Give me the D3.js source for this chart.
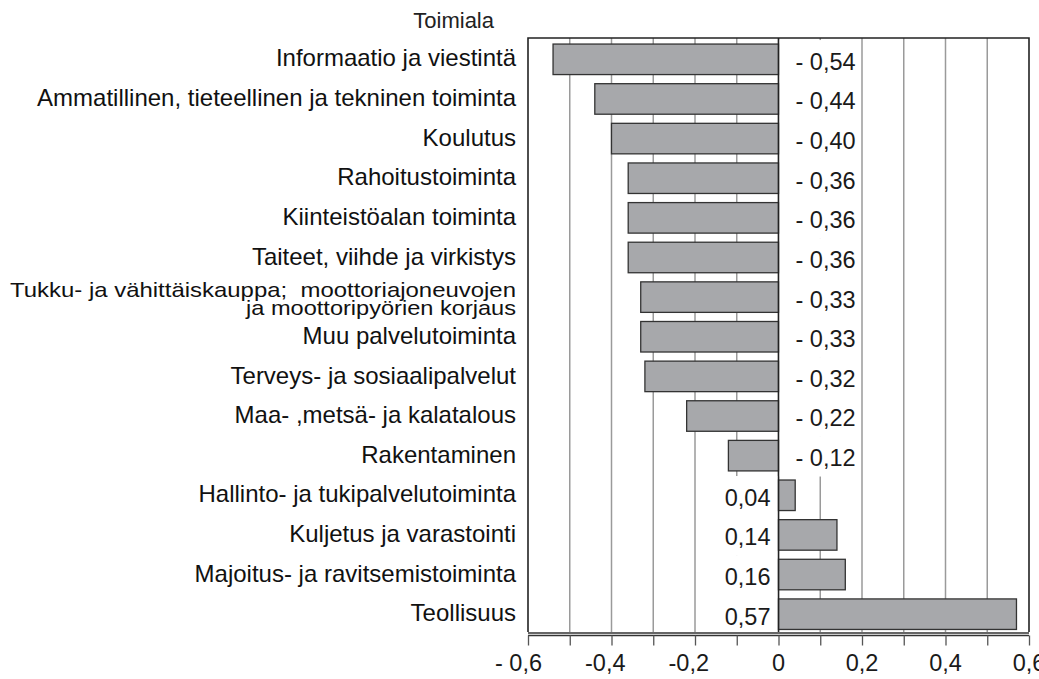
<!DOCTYPE html>
<html><head><meta charset="utf-8">
<script src="https://cdn.jsdelivr.net/npm/d3@7"></script>
<style>body{margin:0;background:#fff}svg{display:block;font-family:"Liberation Sans",Arial,sans-serif}text{white-space:pre}</style>
</head><body><svg id="c" width="1039" height="679"></svg>
<script>
const categories = ["Informaatio ja viestintä","Ammatillinen, tieteellinen ja tekninen toiminta","Koulutus","Rahoitustoiminta","Kiinteistöalan toiminta","Taiteet, viihde ja virkistys","Tukku- ja vähittäiskauppa;  moottoriajoneuvojen\nja moottoripyörien korjaus","Muu palvelutoiminta","Terveys- ja sosiaalipalvelut","Maa- ,metsä- ja kalatalous","Rakentaminen","Hallinto- ja tukipalvelutoiminta","Kuljetus ja varastointi","Majoitus- ja ravitsemistoiminta","Teollisuus"];
const values = [-0.54,-0.44,-0.40,-0.36,-0.36,-0.36,-0.33,-0.33,-0.32,-0.22,-0.12,0.04,0.14,0.16,0.57];
const tickValues = [-0.6,-0.4,-0.2,0,0.2,0.4,0.6];
const tickLabels = ["- 0,6","-0,4","-0,2","0","0,2","0,4","0,6"];
const gridValues = [-0.5,-0.4,-0.3,-0.2,-0.1,0,0.1,0.2,0.3,0.4,0.5];
const axisTitle = "Toimiala";

const FS = 24, NFS = 23.5;
const svg = d3.select("#c");
const L=528,R=1029,T=38,B=632;
const x = d3.scaleLinear().domain([-0.6,0.6]).range([L,R]);
const y = d3.scaleBand().domain(categories).range([39.5,634]).paddingInner(0.23).paddingOuter(0.115);
const fmt = v => { const s = Math.abs(v).toFixed(2).replace(".",","); return v<0 ? "- "+s : s; };
function ntext(g, px, py, str, anchor){
  return g.append("text").attr("x",px).attr("y",py)
    .attr("dy","0.36em").attr("text-anchor",anchor).attr("font-size",NFS).attr("fill","#1a1a1a").text(str);
}

// gridlines
svg.append("g").selectAll("line").data(gridValues).join("line")
  .attr("x1",d=>x(d)).attr("x2",d=>x(d)).attr("y1",T).attr("y2",B)
  .attr("stroke","#9a9a9a").attr("stroke-width",1.5);

// value label backgrounds + text
const lab = svg.append("g");
categories.forEach((c,i)=>{
  const v=values[i], yc=y(c)+y.bandwidth()/2+2;
  if(v<0){
    lab.append("rect").attr("x",x(0)).attr("y",y(c)-4).attr("width",81).attr("height",y.step()+0.5).attr("fill","#fff");
    ntext(lab, x(0)+17, yc, fmt(v), "start");
  } else {
    lab.append("rect").attr("x",x(0)-78).attr("y",y(c)-4).attr("width",78).attr("height",y.step()+0.5).attr("fill","#fff");
    ntext(lab, x(0)-8, yc, fmt(v), "end");
  }
});

// bars
svg.append("g").selectAll("rect").data(categories).join("rect")
  .attr("x",(c,i)=>x(Math.min(0,values[i]))).attr("y",c=>y(c))
  .attr("width",(c,i)=>Math.abs(x(values[i])-x(0))).attr("height",y.bandwidth())
  .attr("fill","#a7a8ab").attr("stroke","#333").attr("stroke-width",1.3);

// zero line
svg.append("line").attr("x1",x(0)).attr("x2",x(0)).attr("y1",T).attr("y2",B).attr("stroke","#222").attr("stroke-width",1.5);

// frame
svg.append("path").attr("d",`M${L},${B}V${T}H${R}V${B}`).attr("fill","none").attr("stroke","#222").attr("stroke-width",1.6);
svg.append("line").attr("x1",L).attr("x2",R).attr("y1",B+1).attr("y2",B+1).attr("stroke","#333").attr("stroke-width",1.6);
svg.append("line").attr("x1",L).attr("x2",R).attr("y1",B+3.5).attr("y2",B+3.5).attr("stroke","#333").attr("stroke-width",1.4);

// bottom axis
const ax = svg.append("g").attr("transform",`translate(0,${B+3.5})`)
  .call(d3.axisBottom(x).tickValues(d3.range(-6,7).map(d=>d/10)).tickSize(10).tickPadding(8).tickFormat(""));
ax.select(".domain").remove();
ax.selectAll("line").attr("stroke","#555").attr("stroke-width",1.3);
const tl = svg.append("g");
tickValues.forEach((d,i)=>{
  if(d<0) ntext(tl, x(d)+14, 663, tickLabels[i], "end");
  else ntext(tl, x(d), 663, tickLabels[i], "middle");
});

// category labels
const cl = svg.append("g");
categories.forEach(c=>{
  const lines=c.split("\n"), yc=y(c)+y.bandwidth()/2;
  if(lines.length===1){
    cl.append("text").attr("x",516).attr("y",yc-1.5).attr("dy","0.36em").attr("text-anchor","end").attr("font-size",FS).attr("fill","#111").text(c);
  } else {
    cl.append("text").attr("x",10).attr("y",297).attr("font-size",21).attr("fill","#111")
      .attr("textLength",506).attr("lengthAdjust","spacingAndGlyphs").text(lines[0]);
    cl.append("text").attr("x",246).attr("y",315).attr("font-size",21).attr("fill","#111")
      .attr("textLength",270).attr("lengthAdjust","spacingAndGlyphs").text(lines[1]);
  }
});
svg.append("text").attr("x",494).attr("y",20).attr("dy","0.36em").attr("text-anchor","end").attr("font-size",22).attr("fill","#222").text(axisTitle);
</script></body></html>
